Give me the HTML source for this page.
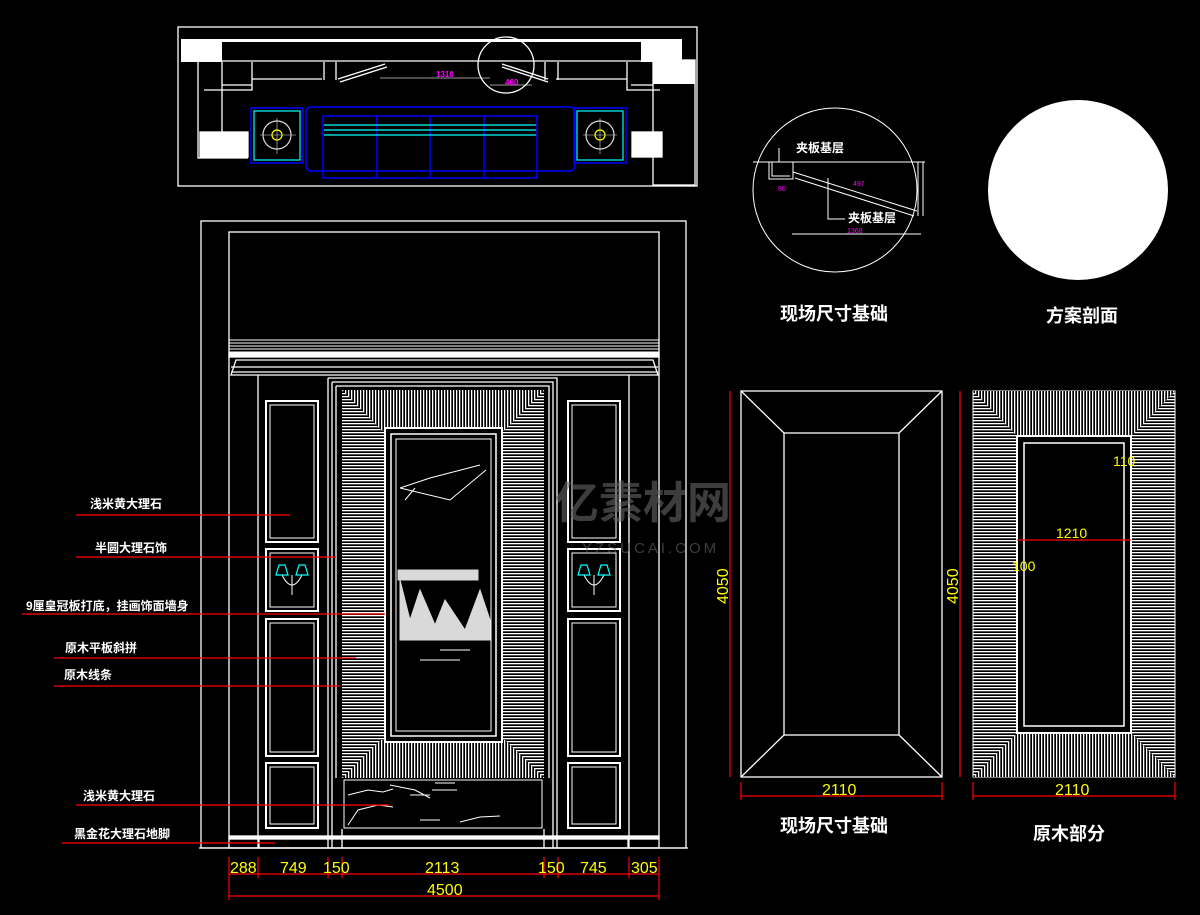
<!DOCTYPE html><html><head><meta charset="utf-8"><style>
html,body{margin:0;padding:0;background:#000;width:1200px;height:915px;overflow:hidden}
svg{display:block}
text{font-family:"Liberation Sans","Noto Sans CJK SC",sans-serif}
.cn{font-family:"Noto Sans CJK SC","WenQuanYi Zen Hei",sans-serif;font-weight:bold;fill:#fff}
</style></head><body>
<svg width="1200" height="915" viewBox="0 0 1200 915" xmlns="http://www.w3.org/2000/svg">
<defs>
<pattern id="hh" width="4" height="3" patternUnits="userSpaceOnUse"><rect width="4" height="1.3" fill="#fff"/></pattern>
<pattern id="vv" width="3" height="4" patternUnits="userSpaceOnUse"><rect width="1.3" height="4" fill="#fff"/></pattern>
</defs>
<g fill="none" stroke="#fff" stroke-width="1.3">
<rect x="178" y="27" width="519" height="159"/>
<rect x="181" y="39" width="485" height="3" fill="#fff" stroke="none"/>
<rect x="181" y="39" width="41" height="23" fill="#fff" stroke="none"/>
<rect x="641" y="39" width="41" height="23" fill="#fff" stroke="none"/>
<rect x="653" y="60" width="42" height="125" fill="#000"/>
<rect x="653" y="60" width="42" height="24" fill="#fff" stroke="none"/>
<rect x="200" y="132" width="48" height="25" fill="#fff"/>
<rect x="632" y="132" width="30" height="25" fill="#fff"/>
<line x1="181" y1="61" x2="666" y2="61"/>
<path d="M198 62V158H248M222 62V132M252 62V85H222M252 85V90H204"/>
<path d="M627 62V90H660M631 85H653"/>
<line x1="252" y1="79" x2="322" y2="79"/><line x1="556" y1="79" x2="627" y2="79"/>
<path d="M324 62V80M336 62V80M558 62V80M545 62V80"/>
<line x1="338" y1="79" x2="385" y2="64"/><line x1="340" y1="82" x2="387" y2="67"/>
<line x1="502" y1="64" x2="548" y2="79"/><line x1="502" y1="67" x2="548" y2="82"/>
<line x1="380" y1="78" x2="490" y2="78" stroke="#ccc" stroke-width="0.8"/>
<line x1="490" y1="85" x2="532" y2="85" stroke="#ccc" stroke-width="0.8"/>
<circle cx="506" cy="65" r="28"/>
</g>
<text x="436" y="77" fill="#f0f" font-size="8" font-weight="bold">1310</text>
<text x="505" y="85" fill="#f0f" font-size="8" font-weight="bold">460</text>
<g fill="none" stroke="#00f" stroke-width="1.5">
<rect x="251" y="108" width="52" height="55"/><rect x="574" y="108" width="52" height="55"/>
<rect x="306" y="107" width="269" height="64" rx="5"/>
<path d="M323 116H537V178H323Z M377 116V178 M430 116V178 M484 116V178"/>
</g>
<g fill="none" stroke="#0ff" stroke-width="1.2">
<rect x="254" y="111" width="46" height="49"/><rect x="577" y="111" width="46" height="49"/>
<path d="M324 125H536M324 130H536M324 135H536"/>
</g>
<g fill="none" stroke="#ddd" stroke-width="1.2"><circle cx="277" cy="135" r="14"/><circle cx="600" cy="135" r="14"/>
<path d="M260 135H296M277 118V154M583 135H617M600 118V154" stroke-width="0.6"/></g>
<g fill="none" stroke="#ff0" stroke-width="1.2"><circle cx="277" cy="135" r="5"/><circle cx="600" cy="135" r="5"/></g>

<g fill="none" stroke="#fff" stroke-width="1.3">
<rect x="201" y="221" width="485" height="627"/>
<rect x="229" y="232" width="430" height="616"/>
<path d="M229 340H659M229 343H659M229 346H659M229 349H659M229 352H659" stroke-width="0.9"/>
<rect x="229" y="353" width="430" height="4" fill="#fff"/>
<path d="M236 360H653L658 375H231Z M231 367H658M231 372H658"/>
<line x1="258" y1="375" x2="258" y2="848"/><line x1="629" y1="375" x2="629" y2="848"/>
<path d="M328 378H557V848 M328 378V848 M332 382H553V848 M332 382V848 M336 386H549V778 M336 386V778"/>
<rect x="229" y="836" width="430" height="3" fill="#fff"/>
<path d="M259 836V848M628 836V848M342 829V848M544 829V848"/>
<line x1="199" y1="848" x2="688" y2="848"/>
</g>
<rect x="342" y="390" width="202" height="388" fill="url(#hh)"/>
<polygon points="342,390 544,390 505,430 381,430" fill="#000"/>
<polygon points="342,390 544,390 505,430 381,430" fill="url(#vv)"/>
<polygon points="342,778 544,778 505,740 381,740" fill="#000"/>
<polygon points="342,778 544,778 505,740 381,740" fill="url(#vv)"/>
<rect x="385" y="428" width="117" height="314" fill="#000" stroke="#fff" stroke-width="2"/>
<rect x="391" y="434" width="105" height="302" fill="none" stroke="#fff" stroke-width="1.5"/>
<rect x="396" y="439" width="95" height="292" fill="none" stroke="#fff" stroke-width="1"/>
<g stroke="#fff" stroke-width="1" fill="#fff">
<path d="M400 488L430 478L480 465M400 488L450 500L486 470M405 500L415 488" fill="none"/>
<path d="M398 570h80v10h-80z M400 580l10 40 10-30 15 35 10-25 20 30 15-40 10 30v20h-90z" opacity="0.85"/>
<path d="M420 660h40M440 650h30" fill="none"/>
</g>
<rect x="344" y="780" width="198" height="48" fill="#000" stroke="#fff"/>
<g stroke="#fff" stroke-width="1" fill="none">
<path d="M348 795l20-5 15 2 10-3M390 785l25 5 15 8M410 795h20M348 825l10-15 20-5 15 2M420 820h20M460 822l20-5 20-1M435 783h20M432 790h25"/>
</g>
<g fill="none" stroke="#fff" stroke-width="2">
<rect x="266" y="401" width="52" height="141"/><rect x="266" y="549" width="52" height="62"/>
<rect x="266" y="619" width="52" height="137"/><rect x="266" y="763" width="52" height="65"/>
<rect x="568" y="401" width="52" height="141"/><rect x="568" y="549" width="52" height="62"/>
<rect x="568" y="619" width="52" height="137"/><rect x="568" y="763" width="52" height="65"/>
</g>
<g fill="none" stroke="#fff" stroke-width="1">
<rect x="270" y="405" width="44" height="133"/><rect x="270" y="553" width="44" height="54"/>
<rect x="270" y="623" width="44" height="129"/><rect x="270" y="767" width="44" height="57"/>
<rect x="572" y="405" width="44" height="133"/><rect x="572" y="553" width="44" height="54"/>
<rect x="572" y="623" width="44" height="129"/><rect x="572" y="767" width="44" height="57"/>
<path d="M282 575q10 20 20 0M584 575q10 20 20 0M292 575v20M594 575v20"/>
</g>
<g fill="none" stroke="#0ff" stroke-width="1.2">
<path d="M276 575l3-10h6l3 10zM296 575l3-10h6l3 10zM578 575l3-10h6l3 10zM598 575l3-10h6l3 10z"/>
</g>
<g stroke="#f00" stroke-width="1.2">
<line x1="76" y1="515" x2="290" y2="515"/><line x1="76" y1="557" x2="336" y2="557"/>
<line x1="22" y1="614" x2="385" y2="614"/><line x1="54" y1="658" x2="356" y2="658"/>
<line x1="54" y1="686" x2="340" y2="686"/><line x1="76" y1="805" x2="389" y2="805"/>
<line x1="62" y1="843" x2="275" y2="843"/>
<line x1="229" y1="874" x2="659" y2="874"/><line x1="229" y1="896" x2="659" y2="896"/>
<path d="M229 857V900M258 857V878M328 857V878M342 857V878M544 857V878M558 857V878M629 857V878M659 857V900"/>
</g>
<g font-size="16" fill="#ff0">
<text x="230" y="873">288</text><text x="280" y="873">749</text><text x="323" y="873">150</text>
<text x="425" y="873">2113</text><text x="538" y="873">150</text><text x="580" y="873">745</text>
<text x="631" y="873">305</text><text x="427" y="895">4500</text>
</g>
<g class="cn" font-size="12">
<text x="90" y="508">浅米黄大理石</text><text x="95" y="552">半圆大理石饰</text>
<text x="26" y="610">9厘皇冠板打底，挂画饰面墙身</text><text x="65" y="652">原木平板斜拼</text>
<text x="64" y="679">原木线条</text><text x="83" y="800">浅米黄大理石</text><text x="74" y="838">黑金花大理石地脚</text>
</g>

<circle cx="835" cy="190" r="82" fill="none" stroke="#fff" stroke-width="1"/>
<g fill="none" stroke="#fff" stroke-width="1">
<path d="M753 162H925M769 162V179H793V162M772 162V176H790V176M793 172L917 211M795 178L914 216M918 162V216M923 162V216"/>
<path d="M779 148V162H800M828 178V219H845M792 234H921"/>
</g>
<text x="796" y="152" class="cn" font-size="12">夹板基层</text>
<text x="848" y="222" class="cn" font-size="12">夹板基层</text>
<g fill="#f0f" font-size="7"><text x="778" y="191">80</text><text x="853" y="186">497</text><text x="847" y="233">1368</text></g>
<circle cx="1078" cy="190" r="90" fill="#fff"/>
<text x="1046" y="322" class="cn" font-size="18">方案剖面</text>
<text x="780" y="320" class="cn" font-size="18">现场尺寸基础</text>

<g fill="none" stroke="#fff" stroke-width="1.3">
<rect x="741" y="391" width="201" height="386"/><rect x="784" y="433" width="115" height="302"/>
<path d="M741 391L784 433M942 391L899 433M741 777L784 735M942 777L899 735"/>
</g>
<g stroke="#f00" stroke-width="1.2"><line x1="741" y1="796" x2="942" y2="796"/><line x1="730" y1="391" x2="730" y2="777"/><path d="M741 782V800M942 782V800"/></g>
<text x="822" y="795" fill="#ff0" font-size="16">2110</text>
<text x="0" y="0" fill="#ff0" font-size="16" transform="translate(728,604) rotate(-90)">4050</text>
<text x="780" y="832" class="cn" font-size="18">现场尺寸基础</text>
<rect x="973" y="391" width="202" height="386" fill="url(#hh)" stroke="#fff"/>
<polygon points="973,391 1175,391 1131,436 1017,436" fill="#000"/>
<polygon points="973,391 1175,391 1131,436 1017,436" fill="url(#vv)"/>
<polygon points="973,777 1175,777 1131,733 1017,733" fill="#000"/>
<polygon points="973,777 1175,777 1131,733 1017,733" fill="url(#vv)"/>
<rect x="1017" y="436" width="114" height="297" fill="#000" stroke="#fff" stroke-width="2"/>
<rect x="1024" y="443" width="100" height="283" fill="none" stroke="#fff" stroke-width="1.5"/>
<g stroke="#f00" stroke-width="1.2"><line x1="973" y1="796" x2="1175" y2="796"/><line x1="960" y1="391" x2="960" y2="777"/><line x1="1017" y1="540" x2="1131" y2="540"/><path d="M973 782V800M1175 782V800"/></g>
<text x="1055" y="795" fill="#ff0" font-size="16">2110</text>
<text x="1056" y="538" fill="#ff0" font-size="14">1210</text>
<text x="1113" y="466" fill="#ff0" font-size="14">110</text>
<text x="1012" y="571" fill="#ff0" font-size="14">100</text>
<text x="0" y="0" fill="#ff0" font-size="16" transform="translate(958,604) rotate(-90)">4050</text>
<text x="1033" y="840" class="cn" font-size="18">原木部分</text>
<text x="555" y="518" fill="#666" font-size="44" font-weight="bold" opacity="0.6">亿素材网</text>
<text x="582" y="553" fill="#666" font-size="15" opacity="0.6" letter-spacing="3">YZSUCAI.COM</text>
</svg>
</body></html>
